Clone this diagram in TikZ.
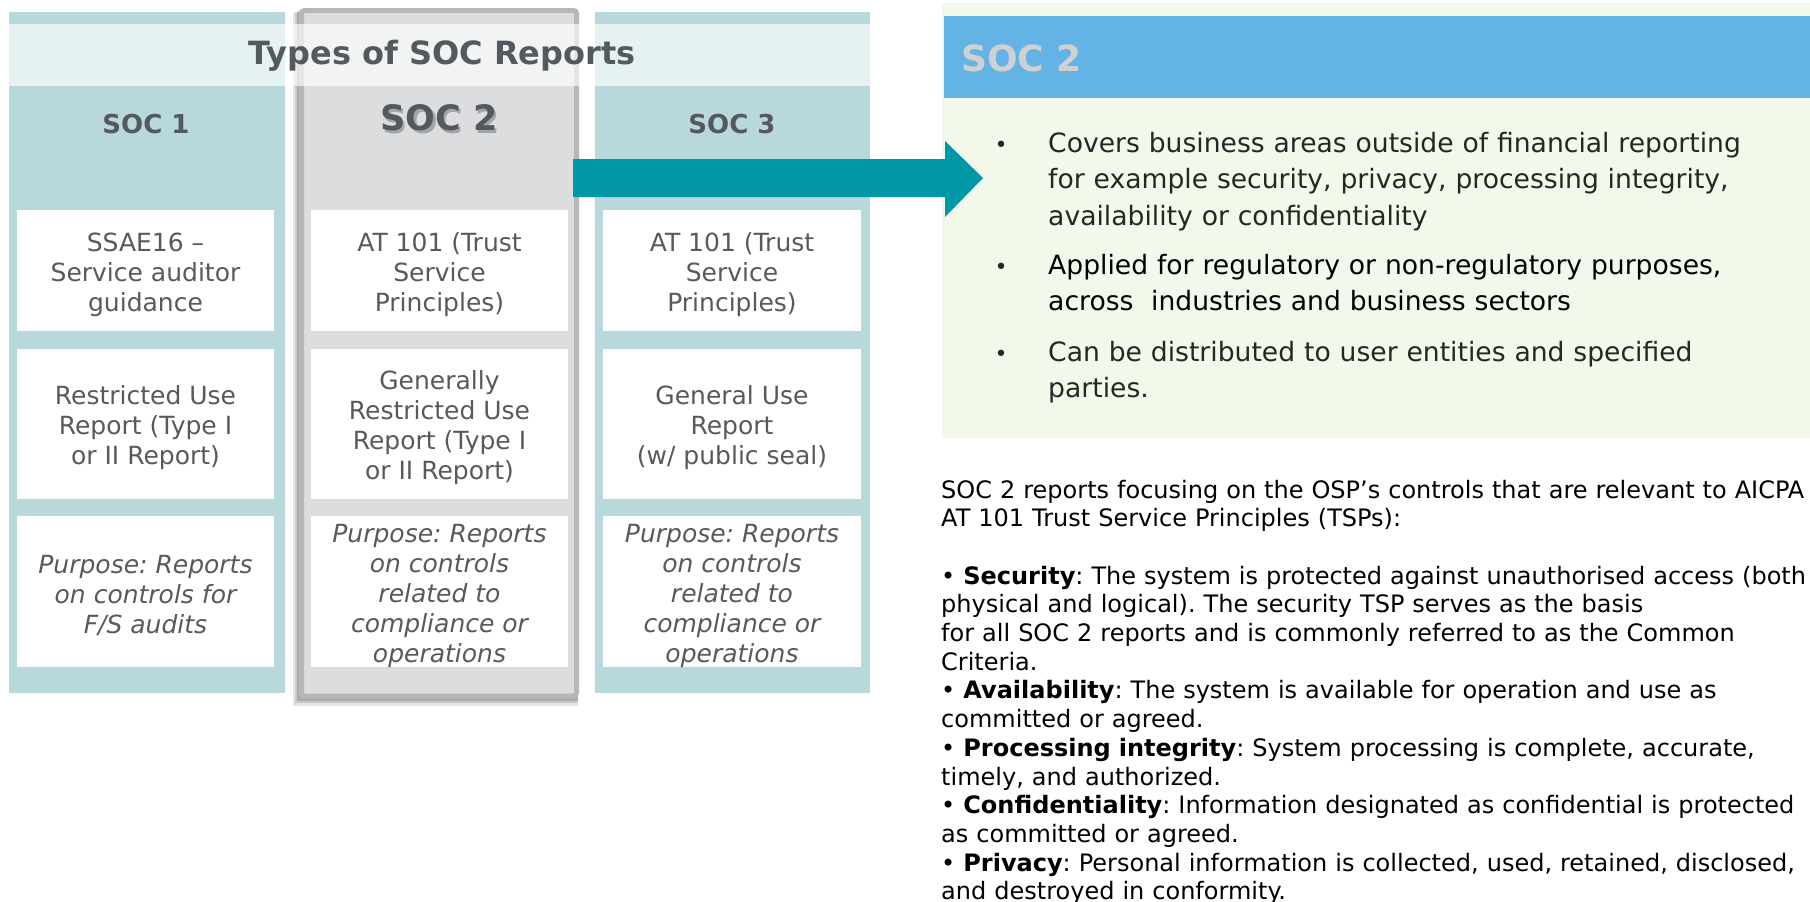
\documentclass[tikz,border=0pt]{standalone}
\usepackage{fontspec}
\setmainfont{DejaVu Sans}
\definecolor{colteal}{HTML}{B9D8DC}
\definecolor{colgray}{HTML}{DCDDDF}
\definecolor{colborder}{HTML}{B6B7BB}
\definecolor{arrowcol}{HTML}{0097A7}
\definecolor{panelgreen}{HTML}{F2F9EA}
\definecolor{headblue}{HTML}{63B4E4}
\definecolor{headtext}{HTML}{D0D0D0}
\definecolor{boxtext}{HTML}{595959}
\definecolor{titletext}{HTML}{54585F}
\begin{document}
\frenchspacing
\begin{tikzpicture}[x=1pt,y=-1pt,
  colbg/.style={fill=colteal,draw=none},
  wbox/.style={fill=white,draw=none,text=boxtext,align=center,inner sep=0pt,
    font=\fontsize{25}{30}\selectfont},
  wtext/.style={text=boxtext,align=center,inner sep=0pt,
    font=\fontsize{25}{30}\selectfont},
  collabel/.style={anchor=base,text=titletext,inner sep=0pt,
    font=\fontsize{26}{30}\selectfont\bfseries},
  bul/.style={anchor=base,inner sep=0pt,text=black!85,font=\fontsize{22}{24}\selectfont},
  bultext/.style={anchor=base west,inner sep=0pt,text=black!85,align=left,
    text width=740pt,font=\fontsize{26.6}{36.7}\selectfont},
  lowtext/.style={anchor=base west,inner sep=0pt,text=black,align=left,
    text width=1000pt,font=\fontsize{24}{28.7}\selectfont}
]
\useasboundingbox (0,0) rectangle (1810,902);
\fill[white] (0,0) rectangle (1810,902);

% column backgrounds
\fill[colteal] (9,12) rectangle (285,693);
\fill[colteal] (595,12) rectangle (870,693);
% SOC 2 column with shadow
\fill[black,opacity=0.10] (293,13) rectangle (578,706);
\fill[black,opacity=0.12] (295,12) rectangle (578,703);
\fill[black,opacity=0.15] (297,11) rectangle (578,701);
\filldraw[fill=colgray,draw=colborder,line width=5pt,rounded corners=3pt]
  (301.5,10.5) rectangle (576.5,696);

% title band
\fill[white,opacity=0.65] (9,24) rectangle (870,86);
\node[anchor=base,inner sep=0pt,text=titletext,font=\fontsize{32}{34}\selectfont\bfseries]
  (title) at (442,64) {Types of SOC Reports};

% column labels
\node[collabel] (l1) at (146,133) {SOC 1};
\node[collabel,text=black,opacity=0.25,font=\fontsize{35}{38}\selectfont\bfseries] at (441.5,133) {SOC 2};
\node[collabel,font=\fontsize{35}{38}\selectfont\bfseries] (l2) at (439,130) {SOC 2};
\node[collabel] (l3) at (732,133) {SOC 3};

% white boxes
\node[wbox,minimum width=257pt,minimum height=121pt] (b11) at (145.5,270.5) {};
\node[wbox,minimum width=257pt,minimum height=121pt] (b21) at (439.5,270.5) {};
\node[wbox,minimum width=258pt,minimum height=121pt] (b31) at (732,270.5) {};
\node[wbox,minimum width=257pt,minimum height=150pt] (b12) at (145.5,424) {};
\node[wbox,minimum width=257pt,minimum height=150pt] (b22) at (439.5,424) {};
\node[wbox,minimum width=258pt,minimum height=150pt] (b32) at (732,424) {};
\node[wbox,minimum width=257pt,minimum height=151pt] (b13) at (145.5,591.5) {};
\node[wbox,minimum width=257pt,minimum height=151pt] (b23) at (439.5,591.5) {};
\node[wbox,minimum width=258pt,minimum height=151pt] (b33) at (732,591.5) {};

\node[wtext,yshift=-4pt] at (b11) {SSAE16 –\\Service auditor\\guidance};
\node[wtext,yshift=-4pt] at (b21) {AT 101 (Trust\\Service\\Principles)};
\node[wtext,yshift=-4pt] at (b31) {AT 101 (Trust\\Service\\Principles)};
\node[wtext,yshift=-4pt] at (b12) {Restricted Use\\Report (Type I\\or II Report)};
\node[wtext,yshift=-4pt] at (b22) {Generally\\Restricted Use\\Report (Type I\\or II Report)};
\node[wtext,yshift=-4pt] at (b32) {General Use\\Report\\(w/ public seal)};
\node[wtext,yshift=-4pt] at (b13) {\itshape Purpose: Reports\\\itshape on controls for\\\itshape F/S audits};
\node[wtext,yshift=-4pt] at (b23) {\itshape Purpose: Reports\\\itshape on controls\\\itshape related to\\\itshape compliance or\\\itshape operations};
\node[wtext,yshift=-4pt] at (b33) {\itshape Purpose: Reports\\\itshape on controls\\\itshape related to\\\itshape compliance or\\\itshape operations};

% right panel
\fill[panelgreen] (942,3) rectangle (1810,438);
\fill[headblue] (944,16) rectangle (1810,98);
\node[anchor=base west,inner sep=0pt,text=headtext,font=\fontsize{36}{40}\selectfont\bfseries]
  (head) at (961,71) {SOC 2};

% arrow
\fill[arrowcol] (573,159) -- (945,159) -- (945,141) -- (983,178) -- (945,217)
  -- (945,197) -- (573,197) -- cycle;

% bullets
\node[bul] (d1) at (1001,152) {•};
\node[bultext] (t1) at (1048,152) {Covers business areas outside of financial reporting\\for example security, privacy, processing integrity,\\availability or confidentiality};
\node[bul] (d2) at (1001,274) {•};
\node[bultext,text=black] (t2) at (1048,274) {Applied for regulatory or non-regulatory purposes,\\across\ \ industries and business sectors};
\node[bul] (d3) at (1001,361) {•};
\node[bultext] (t3) at (1048,361) {Can be distributed to user entities and specified\\parties.};

% lower text
\node[lowtext] (low) at (941,498) {SOC 2 reports focusing on the OSP’s controls that are relevant to AICPA\\
AT 101 Trust Service Principles (TSPs):\\
\mbox{}\\
• \textbf{Security}: The system is protected against unauthorised access (both\\
physical and logical). The security TSP serves as the basis\\
for all SOC 2 reports and is commonly referred to as the Common\\
Criteria.\\
• \textbf{Availability}: The system is available for operation and use as\\
committed or agreed.\\
• \textbf{Processing integrity}: System processing is complete, accurate,\\
timely, and authorized.\\
• \textbf{Confidentiality}: Information designated as confidential is protected\\
as committed or agreed.\\
• \textbf{Privacy}: Personal information is collected, used, retained, disclosed,\\
and destroyed in conformity.};
\end{tikzpicture}
\end{document}
